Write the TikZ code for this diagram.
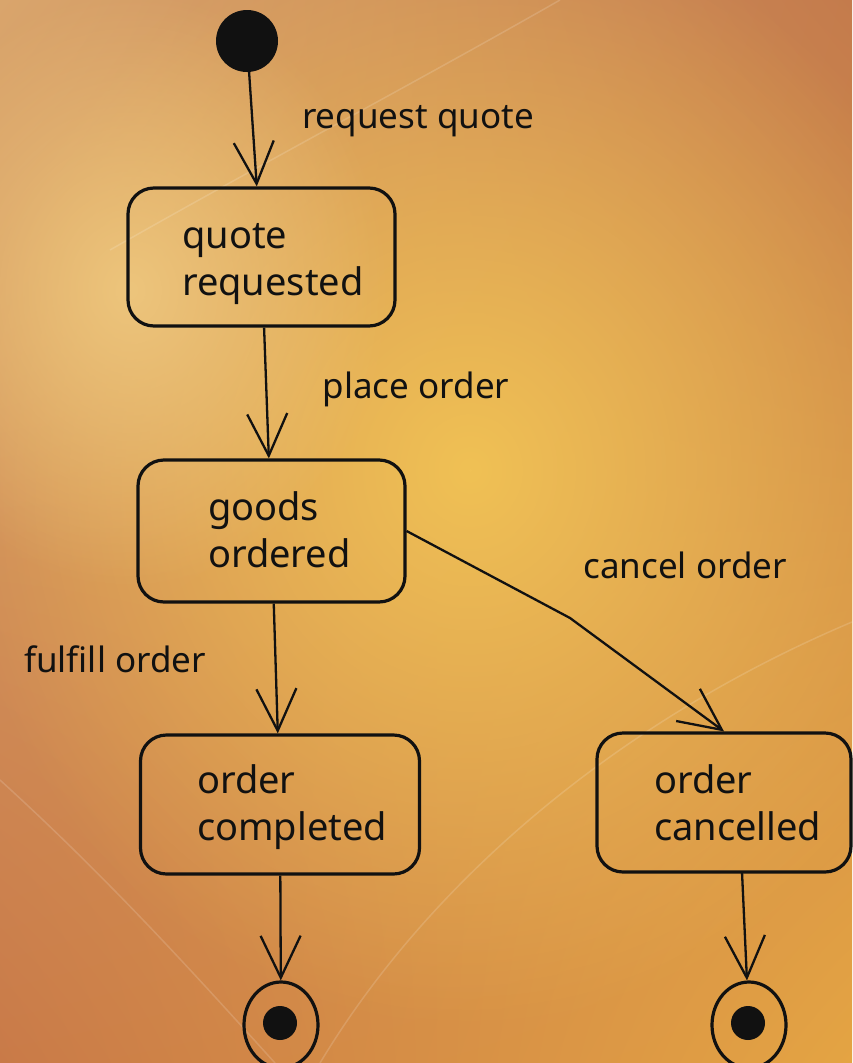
\documentclass[tikz,border=0pt]{standalone}
\usepackage{fontspec}
\setmainfont{Noto Sans}
\usetikzlibrary{arrows.meta,fadings,shadings,shapes.geometric}
\definecolor{bgUL}{HTML}{D9A56C}
\definecolor{bgUR}{HTML}{C47B4C}
\definecolor{bgLL}{HTML}{C97A48}
\definecolor{bgLR}{HTML}{E4A443}
\definecolor{glowc}{HTML}{F0C155}
\definecolor{paleglow}{HTML}{EDC57C}
\definecolor{ink}{HTML}{111111}
\tikzfading[name=glowfade, inner color=transparent!0, outer color=transparent!100]
\begin{document}
\begin{tikzpicture}[x=1pt,y=-1pt,
  statebox/.style={draw=ink, line width=3.2pt, rounded corners=26pt, inner sep=0pt},
  boxtext/.style={text=ink, align=left, inner sep=0pt, font=\fontsize{38}{47}\selectfont},
  lbl/.style={text=ink, inner sep=0pt, font=\fontsize{35}{40}\selectfont},
  conn/.style={draw=ink, line width=2.3pt, -{Straight Barb[length=42pt,width=40pt]}},
  finalstate/.style={draw=ink, line width=3.2pt, ellipse, minimum width=74pt, minimum height=86pt, inner sep=0pt},
  finaldot/.style={fill=ink, circle, minimum size=34pt, inner sep=0pt},
  arcline/.style={draw=white, opacity=0.15, line width=1.5pt}
]
\useasboundingbox (0,0) rectangle (852,1063);
% background
\shade[upper left=bgUL, upper right=bgUR, lower left=bgLL, lower right=bgLR] (0,0) rectangle (852,1063);
\fill[glowc, path fading=glowfade] (470,470) ellipse [x radius=520, y radius=560];
\fill[paleglow, path fading=glowfade] (130,290) ellipse [x radius=260, y radius=300];
\draw[arcline] (560,0) .. controls (420,80) and (250,170) .. (110,250);
\draw[arcline] (852,622) .. controls (620,720) and (430,880) .. (320,1063);
\draw[arcline] (0,780) .. controls (110,880) and (200,980) .. (275,1063);

% states
\node[circle, fill=ink, minimum size=62pt, inner sep=0pt] (init) at (247,41) {};
\node[statebox, minimum width=267pt, minimum height=138pt] (qr) at (261.5,257) {};
\node[boxtext, anchor=base west] (qrt) at (182,295) {quote\\requested};
\node[statebox, minimum width=267pt, minimum height=142pt] (go) at (271.5,531) {};
\node[boxtext, anchor=base west] (got) at (208,567) {goods\\ordered};
\node[statebox, minimum width=279pt, minimum height=139pt] (oc) at (280,804.5) {};
\node[boxtext, anchor=base west] (oct) at (197,840) {order\\completed};
\node[statebox, minimum width=254pt, minimum height=139pt] (ox) at (724,802.5) {};
\node[boxtext, anchor=base west] (oxt) at (654,840) {order\\cancelled};
\node[finalstate] (f1) at (281,1025) {};
\node[finaldot] (f1d) at (280,1023) {};
\node[finalstate] (f2) at (749,1025) {};
\node[finaldot] (f2d) at (748,1023) {};

% connectors
\coordinate (bend) at (570,618);
\coordinate (oxs) at (742,872);
\draw[conn] (init) -- (qr);
\draw[conn] (qr) -- (go);
\draw[conn] (go) -- (oc);
\draw[conn] (go.east) -- (bend) -- (ox.north);
\draw[conn] (oc) -- (f1);
\draw[conn] (oxs) -- (f2);

% labels
\node[lbl, anchor=base] (l1) at (418,128) {request quote};
\node[lbl, anchor=base] (l2) at (416,398) {place order};
\node[lbl, anchor=base] (l3) at (115,672) {fulfill order};
\node[lbl, anchor=base] (l4) at (685,578) {cancel order};
\end{tikzpicture}
\end{document}
